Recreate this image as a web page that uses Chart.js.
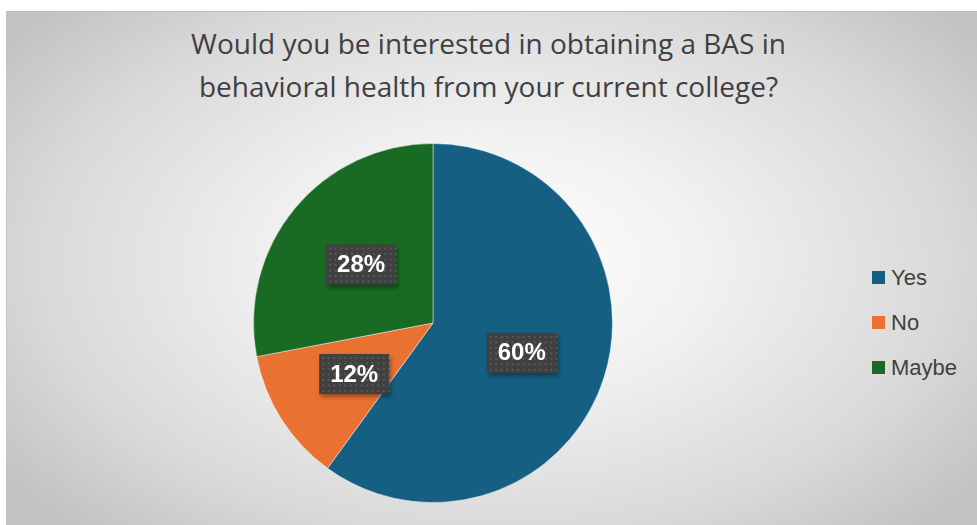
<!DOCTYPE html>
<html>
<head>
<meta charset="utf-8">
<script src="https://cdn.jsdelivr.net/npm/chart.js@4.4.1/dist/chart.umd.min.js"></script>
<style>
  html, body { margin: 0; padding: 0; background: #fff; }
  body { width: 977px; height: 525px; position: relative; overflow: hidden; font-family: "Open Sans", "Noto Sans", sans-serif; }
  #frame {
    position: absolute; left: 6px; top: 11px; width: 975px; height: 520px;
    border-top: 1px solid #bcbcbc; border-left: 1px solid #c4c4c4;
    background: radial-gradient(ellipse 62% 70% at 50% 48%, #ffffff 0%, #f1f1f1 35%, #d9d9d9 75%, #c3c3c3 100%);
  }
  #title {
    position: absolute; left: 0; top: 22px; width: 977px; text-align: center;
    font-size: 28px; line-height: 43px; color: #404040;
  }
  #wrap { position: absolute; left: 233px; top: 123px; width: 400px; height: 400px; }
  #legend { position: absolute; left: 872px; top: 255px; }
  .item { height: 45px; display: flex; align-items: center; font-size: 22px; color: #404040; font-family: "Liberation Sans", Arial, sans-serif; }
  .sw { width: 13px; height: 13px; margin-right: 6px; }
</style>
</head>
<body>
<div id="frame"></div>
<div id="title">Would you be interested in obtaining a BAS in<br>behavioral health from your current college?</div>
<div id="wrap"><canvas id="pie" width="400" height="400"></canvas></div>
<div id="legend"></div>
<script>
// 응답 데이터
var answers = ['Yes', 'No', 'Maybe'];
var shares = [60, 12, 28];
var sliceColors = ['#156082', '#E97132', '#196B24'];

// ── Legend (HTML) ──
var legendEl = document.getElementById('legend');
answers.forEach(function(a, i) {
    var row = document.createElement('div');
    row.className = 'item';
    row.innerHTML = '<span class="sw" style="background:' + sliceColors[i] + '"></span>' + a;
    legendEl.appendChild(row);
});

// ── Percentage boxes on slices ──
var boxLabels = {
    id: 'boxLabels',
    afterDatasetsDraw: function(chart) {
        var ctx = chart.ctx;
        var meta = chart.getDatasetMeta(0);
        ctx.save();
        ctx.font = 'bold 24px "Liberation Sans", Arial, sans-serif';
        ctx.textAlign = 'center';
        ctx.textBaseline = 'middle';
        meta.data.forEach(function(arc, i) {
            var mid = (arc.startAngle + arc.endAngle) / 2;
            var r = arc.outerRadius * 0.52;
            var x = arc.x + Math.cos(mid) * r;
            var y = arc.y + Math.sin(mid) * r + 1;
            var txt = shares[i] + '%';
            var w = 70, h = 40;
            ctx.shadowColor = 'rgba(0,0,0,0.35)';
            ctx.shadowBlur = 4;
            ctx.shadowOffsetX = 2;
            ctx.shadowOffsetY = 3;
            ctx.fillStyle = '#404040';
            ctx.fillRect(x - w / 2, y - h / 2, w, h);
            ctx.shadowColor = 'transparent';
            // dotted pattern
            ctx.fillStyle = 'rgba(255,255,255,0.13)';
            for (var px = x - w / 2 + 3; px < x + w / 2; px += 5.5) {
                for (var py = y - h / 2 + 3; py < y + h / 2; py += 5.5) {
                    ctx.fillRect(px, py, 2, 2);
                }
            }
            ctx.fillStyle = '#ffffff';
            ctx.fillText(txt, x, y + 1);
        });
        ctx.restore();
    }
};

new Chart(document.getElementById('pie').getContext('2d'), {
    type: 'pie',
    data: {
        labels: answers,
        datasets: [{ data: shares, backgroundColor: sliceColors, borderColor: 'rgba(255,255,255,0.45)', borderWidth: 1 }]
    },
    options: {
        responsive: false, animation: false,
        layout: { padding: 20 },
        plugins: { legend: { display: false }, tooltip: { enabled: false } }
    },
    plugins: [boxLabels]
});
</script>
</body>
</html>
